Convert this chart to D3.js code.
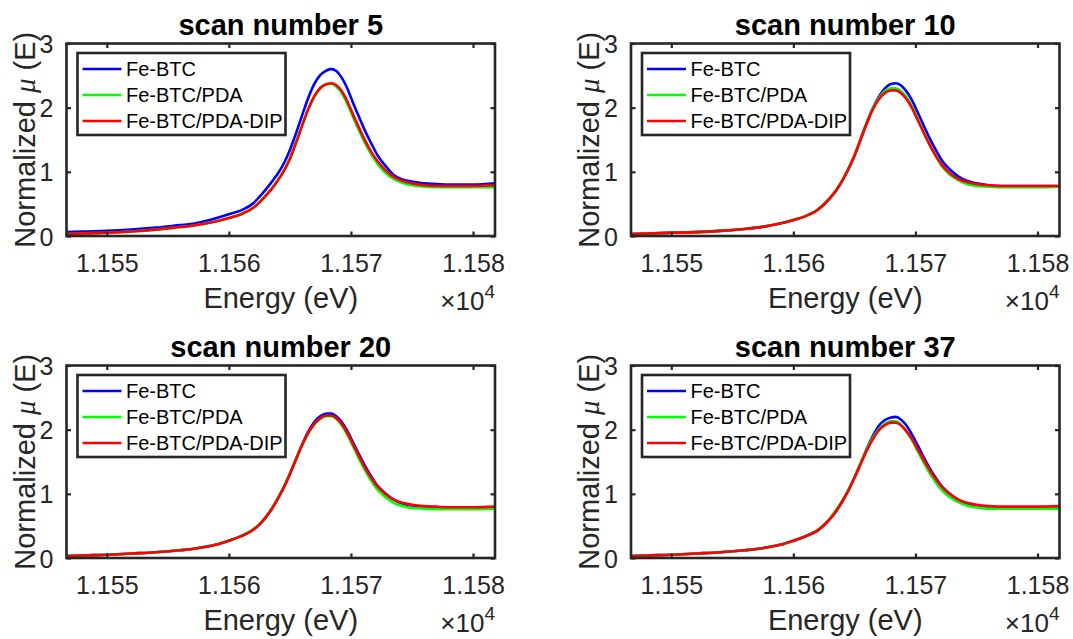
<!DOCTYPE html>
<html>
<head>
<meta charset="utf-8">
<script src="https://cdn.jsdelivr.net/npm/d3@7/dist/d3.min.js"></script>
<style>
  html, body { margin: 0; padding: 0; background: #fff; }
  svg { display: block; }
  text { font-family: "Liberation Sans", Arial, Helvetica, sans-serif; }
</style>
</head>
<body>
<svg id="chart" width="1073" height="639"></svg>
<script>
// ---------------- data ----------------
const energy = [11546.7, 11548, 11550, 11552, 11554, 11556, 11557, 11558, 11559, 11560, 11561, 11562, 11562.5, 11563, 11563.5, 11564, 11564.5, 11565, 11565.5, 11566, 11566.5, 11567, 11567.5, 11568, 11568.4, 11568.8, 11569.2, 11569.7, 11570.2, 11570.7, 11571.2, 11571.7, 11572.2, 11572.8, 11573.5, 11574.2, 11575, 11576, 11577, 11578, 11579, 11580, 11581.8];

const seriesNames = ["Fe-BTC", "Fe-BTC/PDA", "Fe-BTC/PDA-DIP"];
const seriesColors = ["#0000ff", "#00ff00", "#ff0000"];
const scanTitles = ["scan number 5", "scan number 10", "scan number 20", "scan number 37"];

const scan5Blue  = [0.06,0.07,0.08,0.10,0.13,0.17,0.19,0.23,0.28,0.34,0.40,0.51,0.61,0.72,0.84,0.97,1.13,1.34,1.60,1.88,2.15,2.37,2.51,2.58,2.60,2.57,2.48,2.30,2.06,1.84,1.62,1.43,1.25,1.10,0.95,0.88,0.85,0.82,0.81,0.80,0.80,0.80,0.82];
const scan5Green = [0.03,0.04,0.05,0.07,0.10,0.14,0.16,0.19,0.23,0.28,0.34,0.44,0.53,0.63,0.74,0.87,1.02,1.21,1.46,1.72,1.97,2.17,2.30,2.36,2.37,2.33,2.24,2.06,1.84,1.63,1.43,1.26,1.12,0.99,0.89,0.83,0.79,0.77,0.76,0.76,0.76,0.76,0.76];
const scan5Red   = [0.03,0.04,0.05,0.07,0.10,0.14,0.16,0.19,0.23,0.28,0.34,0.44,0.52,0.62,0.73,0.86,1.01,1.20,1.45,1.72,1.98,2.18,2.31,2.37,2.38,2.35,2.27,2.10,1.88,1.67,1.47,1.30,1.16,1.03,0.92,0.86,0.82,0.79,0.78,0.78,0.78,0.78,0.79];

const scan10Blue  = [0.03,0.04,0.05,0.06,0.08,0.11,0.13,0.16,0.20,0.25,0.31,0.41,0.49,0.59,0.71,0.86,1.04,1.25,1.50,1.76,1.99,2.17,2.30,2.37,2.38,2.35,2.27,2.12,1.92,1.71,1.51,1.33,1.17,1.04,0.93,0.86,0.82,0.79,0.78,0.78,0.78,0.78,0.78];
const scan10Green = [0.03,0.04,0.05,0.06,0.08,0.11,0.13,0.16,0.20,0.25,0.31,0.41,0.50,0.60,0.72,0.87,1.05,1.26,1.51,1.76,1.99,2.15,2.26,2.30,2.30,2.26,2.18,2.03,1.82,1.61,1.41,1.23,1.08,0.96,0.87,0.81,0.78,0.77,0.76,0.76,0.76,0.76,0.77];
const scan10Red   = [0.03,0.04,0.05,0.06,0.08,0.11,0.13,0.16,0.20,0.25,0.31,0.41,0.49,0.59,0.71,0.86,1.04,1.25,1.50,1.75,1.97,2.13,2.23,2.27,2.27,2.23,2.15,2.00,1.80,1.60,1.41,1.24,1.10,0.98,0.89,0.84,0.81,0.79,0.78,0.78,0.78,0.78,0.78];

const scan20Blue  = [0.03,0.04,0.05,0.07,0.09,0.12,0.14,0.17,0.21,0.27,0.34,0.44,0.52,0.63,0.76,0.92,1.10,1.31,1.54,1.77,1.97,2.12,2.21,2.25,2.25,2.21,2.13,1.98,1.79,1.60,1.42,1.26,1.12,1.01,0.91,0.85,0.82,0.80,0.79,0.78,0.78,0.78,0.79];
const scan20Green = [0.03,0.04,0.05,0.07,0.09,0.12,0.14,0.17,0.21,0.27,0.34,0.45,0.53,0.64,0.77,0.93,1.11,1.32,1.55,1.76,1.94,2.08,2.17,2.21,2.21,2.17,2.08,1.92,1.73,1.53,1.35,1.19,1.06,0.95,0.86,0.81,0.78,0.77,0.76,0.76,0.76,0.76,0.77];
const scan20Red   = [0.03,0.04,0.05,0.07,0.09,0.12,0.14,0.17,0.21,0.27,0.34,0.44,0.52,0.63,0.76,0.92,1.10,1.31,1.54,1.76,1.95,2.09,2.18,2.22,2.22,2.18,2.10,1.95,1.76,1.57,1.39,1.24,1.11,1.00,0.91,0.86,0.83,0.81,0.80,0.79,0.79,0.79,0.80];

const scan37Blue  = [0.03,0.04,0.05,0.07,0.09,0.12,0.14,0.17,0.21,0.27,0.34,0.43,0.51,0.61,0.73,0.88,1.05,1.25,1.47,1.70,1.90,2.06,2.15,2.19,2.20,2.16,2.08,1.93,1.75,1.56,1.39,1.24,1.11,1.00,0.91,0.85,0.82,0.80,0.79,0.78,0.78,0.78,0.79];
const scan37Green = [0.03,0.04,0.05,0.07,0.09,0.12,0.14,0.17,0.21,0.27,0.34,0.44,0.52,0.62,0.75,0.89,1.06,1.26,1.48,1.69,1.87,2.01,2.09,2.13,2.13,2.08,1.99,1.84,1.66,1.48,1.31,1.17,1.05,0.95,0.87,0.82,0.79,0.77,0.77,0.77,0.77,0.77,0.77];
const scan37Red   = [0.03,0.04,0.05,0.07,0.09,0.12,0.14,0.17,0.21,0.27,0.34,0.43,0.51,0.61,0.73,0.88,1.05,1.25,1.46,1.67,1.85,1.99,2.07,2.11,2.11,2.07,1.99,1.86,1.69,1.52,1.36,1.22,1.10,1.00,0.91,0.86,0.83,0.81,0.80,0.80,0.80,0.80,0.81];

const xTicks = [11550, 11560, 11570, 11580];
const xTickLabels = ["1.155", "1.156", "1.157", "1.158"];
const yTicks = [0, 1, 2, 3];
const xDomain = [11546.7, 11581.8];
const yDomain = [0, 3];

const panelSeries = [
  [scan5Blue, scan5Green, scan5Red],
  [scan10Blue, scan10Green, scan10Red],
  [scan20Blue, scan20Green, scan20Red],
  [scan37Blue, scan37Green, scan37Red]
];

// ---------------- layout ----------------
const W = 428.5, H = 192.5;
const origins = [[66.5, 43.5], [631, 43.5], [66.5, 365.5], [631, 365.5]];
const axisColor = "#262626";
const svg = d3.select("#chart");

panelSeries.forEach((series, p) => {
  const [ox, oy] = origins[p];
  const g = svg.append("g").attr("transform", `translate(${ox},${oy})`);
  const x = d3.scaleLinear().domain(xDomain).range([0, W]);
  const y = d3.scaleLinear().domain(yDomain).range([H, 0]);

  g.append("clipPath").attr("id", "clip" + p)
    .append("rect").attr("x", 0).attr("y", 0).attr("width", W).attr("height", H);

  const line = d3.line()
    .x((d, i) => x(energy[i]))
    .y(d => y(d))
    .curve(d3.curveMonotoneX);

  const lines = g.append("g").attr("clip-path", `url(#clip${p})`);
  series.forEach((vals, s) => {
    lines.append("path").datum(vals)
      .attr("d", line)
      .attr("fill", "none")
      .attr("stroke", seriesColors[s])
      .attr("stroke-width", 2.6)
      .attr("stroke-linejoin", "round");
  });

  // axes (MATLAB style box with inward ticks)
  const tickLen = 4.5;
  const xAxisB = d3.axisBottom(x).tickValues(xTicks).tickSizeInner(-tickLen).tickSizeOuter(0)
    .tickFormat((d, i) => xTickLabels[i]);
  const gxb = g.append("g").attr("transform", `translate(0,${H})`).call(xAxisB);
  const xAxisT = d3.axisTop(x).tickValues(xTicks).tickSizeInner(-tickLen).tickSizeOuter(0).tickFormat("");
  const gxt = g.append("g").call(xAxisT);
  const yAxisL = d3.axisLeft(y).tickValues(yTicks).tickSizeInner(-tickLen).tickSizeOuter(0)
    .tickFormat(d3.format("d")).tickPadding(13);
  const gyl = g.append("g").call(yAxisL);
  const yAxisR = d3.axisRight(y).tickValues(yTicks).tickSizeInner(-tickLen).tickSizeOuter(0).tickFormat("");
  const gyr = g.append("g").attr("transform", `translate(${W},0)`).call(yAxisR);

  [gxb, gxt, gyl, gyr].forEach(a => {
    a.select(".domain").remove();
    a.selectAll(".tick line").attr("stroke", axisColor).attr("stroke-width", 2.2);
    a.selectAll(".tick text").attr("fill", axisColor)
      .style("font-family", '"Liberation Sans", Arial, sans-serif').style("font-size", "25px");
  });
  gxb.selectAll(".tick text").attr("dy", null).attr("y", 36).attr("dominant-baseline", "auto");
  gyl.selectAll(".tick text").attr("dy", "0.36em");

  g.append("rect").attr("x", 0).attr("y", 0).attr("width", W).attr("height", H)
    .attr("fill", "none").attr("stroke", axisColor).attr("stroke-width", 2.6);

  // title
  g.append("text").attr("x", W / 2).attr("y", -8.5)
    .attr("text-anchor", "middle").attr("font-weight", "bold").attr("font-size", 29)
    .attr("fill", "#000").text(scanTitles[p]);

  // x label
  g.append("text").attr("x", W / 2).attr("y", H + 72)
    .attr("text-anchor", "middle").attr("font-size", 29).attr("fill", axisColor)
    .text("Energy (eV)");

  // exponent
  const ex = g.append("text").attr("x", W).attr("y", H + 74)
    .attr("text-anchor", "end").attr("font-size", 26).attr("fill", axisColor);
  ex.append("tspan").attr("font-size", 26).text("\u00d7");
  ex.append("tspan").text("10");
  ex.append("tspan").attr("font-size", 19).attr("dy", -12).text("4");

  // y label
  const yl = g.append("text")
    .attr("transform", `translate(-32,${H / 2}) rotate(-90)`)
    .attr("text-anchor", "middle").attr("font-size", 29).attr("fill", axisColor);
  yl.append("tspan").text("Normalized ");
  yl.append("tspan").attr("font-style", "italic").attr("font-family", '"Liberation Serif", "Times New Roman", serif').text("\u03bc");
  yl.append("tspan").text(" (E)");

  // legend
  const lg = g.append("g").attr("transform", "translate(11,9.5)");
  lg.append("rect").attr("width", 208).attr("height", 82)
    .attr("fill", "#fff").attr("stroke", axisColor).attr("stroke-width", 2.6);
  seriesNames.forEach((name, s) => {
    const yy = 16 + s * 26;
    lg.append("line").attr("x1", 5).attr("x2", 44).attr("y1", yy).attr("y2", yy)
      .attr("stroke", seriesColors[s]).attr("stroke-width", 2.6);
    lg.append("text").attr("x", 48.5).attr("y", yy).attr("dy", "0.36em")
      .attr("font-size", 20).attr("fill", "#000").text(name);
  });
});
</script>
</body>
</html>
